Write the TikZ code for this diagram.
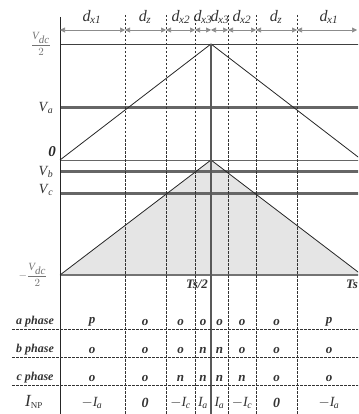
\documentclass[tikz,border=0pt]{standalone}
\usepackage{fontspec}
\setmainfont{Liberation Serif}
\usetikzlibrary{arrows.meta}
\newcommand{\dsub}[2]{\textit{#1}\textsubscript{\kern-0.5pt\textit{#2}}}
\tikzset{
  thinln/.style={draw=black!75, line width=0.8pt},
  thickln/.style={draw=black!60, line width=3pt},
  dashln/.style={draw=black!80, line width=0.8pt, dash pattern=on 2.5pt off 1.5pt},
  dimarr/.style={draw=black!45, line width=0.6pt, {Triangle[length=5pt,width=5pt]}-{Triangle[length=5pt,width=5pt]}},
  dlab/.style={font=\fontsize{16}{16}\selectfont, text=black!80, inner sep=0pt},
  cell/.style={font=\fontsize{13}{13}\selectfont\bfseries\itshape, text=black!80, inner sep=0pt},
  lab/.style={font=\fontsize{14}{14}\selectfont, text=black!80, inner sep=0pt},
  tri/.style={draw=black!85, line width=0.8pt}
}
\begin{document}
\begin{tikzpicture}[x=1pt,y=-1pt]
\useasboundingbox (0,0) rectangle (358,414);
\clip (0,0) rectangle (358,414);
% key points
\coordinate (L0) at (60,160);
\coordinate (Top) at (211,44);
\coordinate (R0) at (362,160);
\coordinate (LB) at (60,275);
\coordinate (Peak) at (211,160);
\coordinate (RB) at (362,275);
% shaded lower triangle
\fill[black!10] (LB) -- (Peak) -- (RB) -- cycle;
% horizontal lines
\coordinate (hT1) at (60,44); \coordinate (hT2) at (362,44);
\draw[thinln] (hT1) -- (hT2);
\coordinate (ha1) at (60,108); \coordinate (ha2) at (362,108);
\draw[thickln] (ha1) -- (ha2);
\draw[draw=black!60, line width=1pt] (L0) -- (R0);
\coordinate (hb1) at (60,171); \coordinate (hb2) at (362,171);
\draw[thickln] (hb1) -- (hb2);
\coordinate (hc1) at (60,193); \coordinate (hc2) at (362,193);
\draw[thickln] (hc1) -- (hc2);
\draw[draw=black!55, line width=1.6pt] (LB) -- (RB);
% triangles
\draw[tri] (L0) -- (Top) -- (R0);
\draw[tri] (LB) -- (Peak) -- (RB);
% dashed verticals
\foreach \x in {125,166,195,228,256,297}{
  \coordinate (dt\x) at (\x,15);
  \coordinate (db\x) at (\x,414);
  \draw[dashln] (dt\x) -- (db\x);
}
% axes
\coordinate (ax1) at (60,17); \coordinate (ax2) at (60,414);
\draw[draw=black!85, line width=1pt] (ax1) -- (ax2);
\coordinate (cx2) at (211,414);
\draw[draw=black!65, line width=1.5pt] (Top) -- (cx2);
% dimension arrows
\foreach \a/\b in {60/125,125/166,166/195,195/211,211/228,228/256,256/297,297/357}{
  \coordinate (da\a) at (\a,30); \coordinate (db\b) at (\b,30);
  \draw[dimarr] (da\a) -- (db\b);
}
\node[dlab] (d1) at (92,17) {\dsub{d}{x1}};
\node[dlab] (d2) at (145,17) {\dsub{d}{z}};
\node[dlab] (d3) at (181,17) {\dsub{d}{x2}};
\node[dlab] (d4) at (203,17) {\dsub{d}{x3}};
\node[dlab] (d5) at (220,17) {\dsub{d}{x3}};
\node[dlab] (d6) at (242,17) {\dsub{d}{x2}};
\node[dlab] (d7) at (276,17) {\dsub{d}{z}};
\node[dlab] (d8) at (329,17) {\dsub{d}{x1}};
% left labels
\node[text=black!55, font=\fontsize{11}{11}\selectfont, inner sep=0pt] (vdc) at (41,44) {$\displaystyle\frac{\textit{V}_{\textit{dc}}}{2}$};
\node[lab] (va) at (46,108) {\dsub{V}{a}};
\node[font=\fontsize{15}{15}\selectfont\bfseries\itshape, text=black!85, inner sep=0pt] (zero) at (52,152) {0};
\node[lab] (vb) at (46,172) {\dsub{V}{b}};
\node[lab] (vc) at (46,190) {\dsub{V}{c}};
\node[text=black!55, font=\fontsize{11}{11}\selectfont, inner sep=0pt] (mvdc) at (33,275) {$\displaystyle-\frac{\textit{V}_{\textit{dc}}}{2}$};
\node[cell] (ts2) at (197,284) {Ts/2};
\node[cell] (ts) at (352,284) {Ts};
% table separators
\foreach \y in {329,357,385}{
  \coordinate (sl\y) at (12,\y); \coordinate (sr\y) at (362,\y);
  \draw[dashln] (sl\y) -- (sr\y);
}
\node[cell, font=\fontsize{12}{12}\selectfont\bfseries\itshape] (ra) at (35,322) {a phase};
\node[cell, font=\fontsize{12}{12}\selectfont\bfseries\itshape] (rb) at (35,350) {b phase};
\node[cell, font=\fontsize{12}{12}\selectfont\bfseries\itshape] (rc) at (35,378) {c phase};
\node[lab, font=\fontsize{17}{17}\selectfont] (rn) at (34,402) {\dsub{I}{\fontsize{9}{9}\selectfont\upshape NP}};
% table cells
\foreach \x/\a/\b/\c/\n [count=\i] in {
  92/p/o/o/{$-$\dsub{I}{a}},
  145/o/o/o/{\bfseries 0},
  180.5/o/o/n/{$-$\dsub{I}{c}},
  203/o/n/n/{\dsub{I}{a}},
  219.5/o/n/n/{\dsub{I}{a}},
  242/o/o/n/{$-$\dsub{I}{c}},
  276.5/o/o/o/{\bfseries 0},
  329/p/o/o/{$-$\dsub{I}{a}}}{
  \node[cell] (ca\i) at (\x,322) {\a};
  \node[cell] (cb\i) at (\x,350) {\b};
  \node[cell] (cc\i) at (\x,378) {\c};
  \node[cell, font=\fontsize{14}{14}\selectfont\itshape] (cn\i) at (\x,403) {\n};
}
\end{tikzpicture}
\end{document}
